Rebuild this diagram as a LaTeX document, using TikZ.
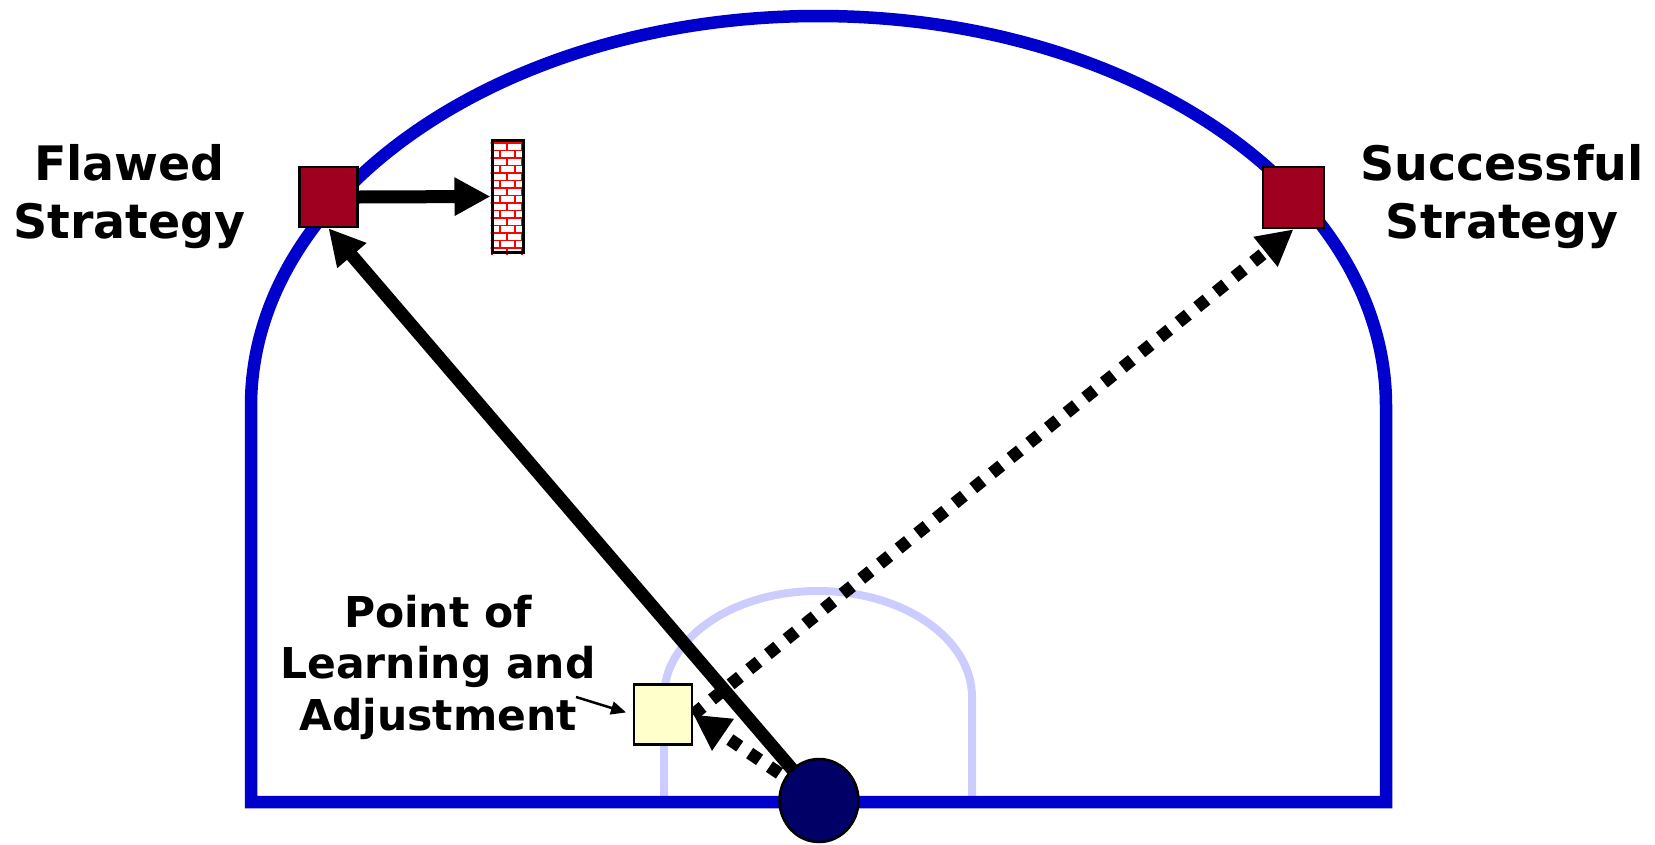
\documentclass[tikz,border=0pt]{standalone}
\usepackage{fontspec}
\setmainfont{DejaVu Sans}
\usetikzlibrary{arrows.meta,backgrounds,shapes.geometric}
\definecolor{outerblue}{HTML}{0000CC}
\definecolor{innerblue}{HTML}{CCCCFF}
\definecolor{crimson}{HTML}{A00020}
\definecolor{paleyellow}{HTML}{FFFFCC}
\definecolor{navy}{HTML}{000066}
\tikzset{
  bigtext/.style={align=center,inner sep=0pt,font=\fontsize{47.5}{58}\selectfont\bfseries},
  smalltext/.style={align=center,inner sep=0pt,font=\fontsize{42.5}{51.5}\selectfont\bfseries},
  sqbox/.style={draw=black,line width=2.5pt,inner sep=0pt,minimum width=58pt,minimum height=60pt},
  heavy/.style={line width=13pt,-{Triangle[length=36pt,width=36pt]}},
  dotted heavy/.style={heavy,line width=12.5pt,dash pattern=on 12pt off 12pt}
}
\begin{document}
\begin{tikzpicture}[x=1pt,y=-1pt]
\useasboundingbox (0,0) rectangle (1655,844);
% nodes
\node[sqbox,fill=crimson] (flawed) at (328.5,197) {};
\node[sqbox,fill=crimson,minimum width=61pt,minimum height=61pt] (success) at (1293.5,197.5) {};
\node[sqbox,fill=paleyellow] (yellow) at (663,714.5) {};
\node[draw=black,line width=2.5pt,fill=navy,ellipse,inner sep=0pt,minimum width=79pt,minimum height=83pt] (root) at (819,800.5) {};
% wall
\node[draw=black,line width=3pt,inner sep=0pt,minimum width=31pt,minimum height=112pt] (wall) at (507.5,196.5) {};
\begin{scope}
\clip (wall.south west) rectangle (wall.north east);
\foreach \r in {0,...,15}{
  \pgfmathsetmacro{\yy}{143+7.5*\r}
  \draw[red,line width=1.6pt] (490,\yy) -- (530,\yy);
  \pgfmathsetmacro{\xo}{mod(\r,2)==0 ? 0 : 8}
  \foreach \k in {0,1,2}{
    \pgfmathsetmacro{\xx}{492+\xo+15*\k}
    \draw[red,line width=1.6pt] (\xx,\yy) -- (\xx,\yy+7.5);
  }
}
\end{scope}
\node[draw=black,line width=3pt,inner sep=0pt,minimum width=31pt,minimum height=112pt] at (wall.center) {};
% labels
\node[bigtext] (lflawed) at (129.5,197) {Flawed\\Strategy};
\node[bigtext] (lsuccess) at (1502,197) {Successful\\Strategy};
\node[smalltext] (lpoint) at (438,667) {Point of\\Learning and\\Adjustment};
\coordinate (lpointend) at (576,697);
\draw[line width=2.5pt,-{Triangle[length=15pt,width=13pt]},shorten >=7pt] (lpointend) -- (yellow.west);
% lines behind nodes
\begin{pgfonlayer}{background}
\draw[innerblue,line width=8pt] (664,802) -- (664,697) arc[start angle=180,end angle=0,x radius=154,y radius=-106] -- (972,802);
\draw[outerblue,line width=12.5pt,line join=miter] (251,802) -- (251,406) arc[start angle=180,end angle=0,x radius=567.5,y radius=-390] -- (1386,802) -- cycle;
\draw[dotted heavy] (yellow.east) -- (success.south);
\draw[dotted heavy] (root.center) -- (yellow.east);
\draw[heavy] (root.center) -- (flawed.south);
\draw[heavy] (flawed.east) -- (wall.west);
\end{pgfonlayer}
\end{tikzpicture}
\end{document}
